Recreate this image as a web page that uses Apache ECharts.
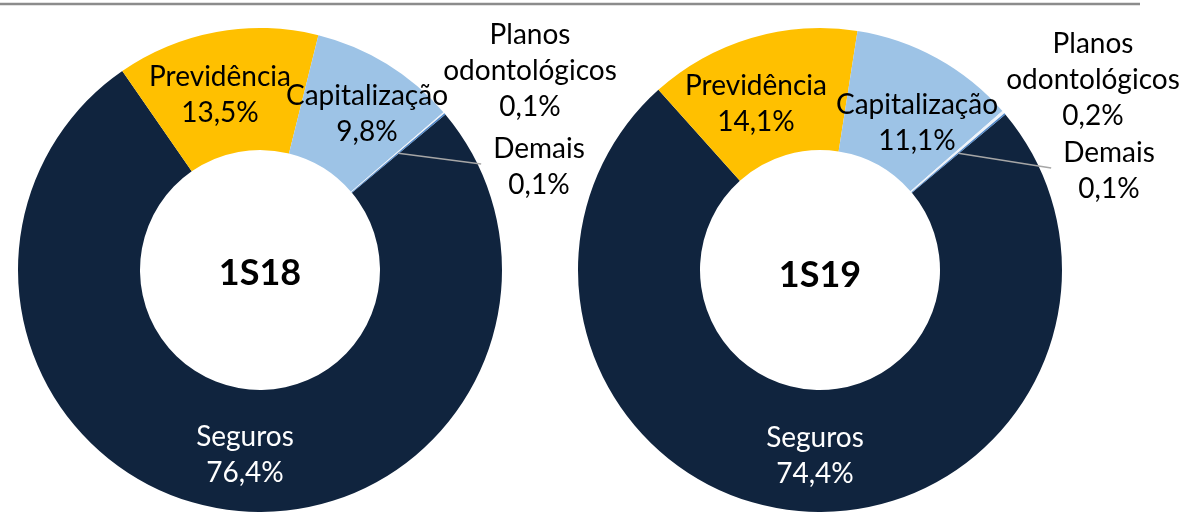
<!DOCTYPE html>
<html>
<head>
<meta charset="utf-8">
<script src="https://cdn.jsdelivr.net/npm/echarts@6/dist/echarts.min.js"></script>
<style>
    html, body { margin: 0; padding: 0; background: #fff; }
    #chart { width: 1183px; height: 512px; }
</style>
</head>
<body>
<div id="chart"></div>
<script>
// dados
const categories = ['Seguros', 'Previdência', 'Capitalização', 'Planos\nodontológicos', 'Demais'];
const values1S18 = [76.4, 13.5, 9.8, 0.1, 0.1];
const values1S19 = [74.4, 14.1, 11.1, 0.2, 0.1];
const periods = ['1S18', '1S19'];

// estilo / layout
const colors = ['#10243e', '#ffc000', '#9dc3e6', '#eef3fa', '#4f86c6'];
const labelColors = ['#ffffff', '#000000', '#000000', '#000000', '#000000'];
const centers = [[260, 270], [820, 270]];
const radius = [120, 242];
const startAngle = 40;
const font = 'Lato, "Noto Sans", sans-serif';
// posição do rótulo relativa ao centro de cada rosca
const labelOffsets = [
    [[-15, 185], [-40, -175], [107, -156], [270, -199], [279, -103]],
    [[-5, 186], [-64, -166], [97, -147], [273, -190], [289, -99]]
];

function fmt(v) {
    return String(v).replace('.', ',') + '%';
}

// overlay = true -> série transparente por cima, só com o rótulo "Demais" e a linha guia
function makeSeries(values, idx, overlay) {
    const total = values.reduce((a, b) => a + b, 0);
    const c = centers[idx];
    return {
        type: 'pie',
        z: overlay ? 3 : 2,
        center: c,
        radius: radius,
        startAngle: startAngle,
        clockwise: true,
        avoidLabelOverlap: false,
        animation: false,
        silent: true,
        data: values.map(function (v, i) {
            const isLine = i === 4;
            return {
                name: categories[i],
                value: v,
                itemStyle: { color: overlay ? 'rgba(0,0,0,0)' : colors[i], borderWidth: 0 },
                label: { color: labelColors[i], show: overlay ? isLine : !isLine },
                labelLine: { show: overlay && isLine }
            };
        }),
        label: {
            show: true,
            position: 'outside',
            fontFamily: font,
            fontSize: 28,
            lineHeight: 36,
            align: 'center',
            formatter: function (p) {
                return p.name + '\n' + fmt(p.value);
            }
        },
        labelLine: {
            show: false,
            lineStyle: { color: '#a6a6a6', width: 1.5 }
        },
        labelLayout: function (p) {
            const off = labelOffsets[idx][p.dataIndex];
            const x = c[0] + off[0];
            const y = c[1] + off[1];
            const res = { x: x, y: y, align: 'center', verticalAlign: 'middle' };
            if (p.dataIndex === 4) {
                // linha guia: do meio do anel até a esquerda do rótulo
                let before = 0;
                for (let k = 0; k < 4; k++) before += values[k];
                const mid = before + values[4] / 2;
                const a = (startAngle - 360 * mid / total) * Math.PI / 180;
                const r = (radius[0] + radius[1]) / 2;
                res.labelLinePoints = [
                    [c[0] + r * Math.cos(a), c[1] - r * Math.sin(a)],
                    [x - p.labelRect.width / 2 - 12, y - 3]
                ];
            }
            return res;
        }
    };
}

const myChart = echarts.init(document.getElementById('chart'));
myChart.setOption({
    backgroundColor: '#ffffff',
    graphic: [
        {
            type: 'line',
            shape: { x1: 0, y1: 4, x2: 1140, y2: 4 },
            style: { stroke: '#8c8c8c', lineWidth: 2.5 }
        },
        {
            type: 'text',
            style: {
                text: periods[0], x: centers[0][0], y: centers[0][1] + 3,
                textAlign: 'center', textVerticalAlign: 'middle',
                font: 'bold 36px ' + font, fill: '#000'
            }
        },
        {
            type: 'text',
            style: {
                text: periods[1], x: centers[1][0], y: centers[1][1] + 5,
                textAlign: 'center', textVerticalAlign: 'middle',
                font: 'bold 36px ' + font, fill: '#000'
            }
        }
    ],
    series: [
        makeSeries(values1S18, 0, false),
        makeSeries(values1S19, 1, false),
        makeSeries(values1S18, 0, true),
        makeSeries(values1S19, 1, true)
    ]
});
</script>
</body>
</html>
